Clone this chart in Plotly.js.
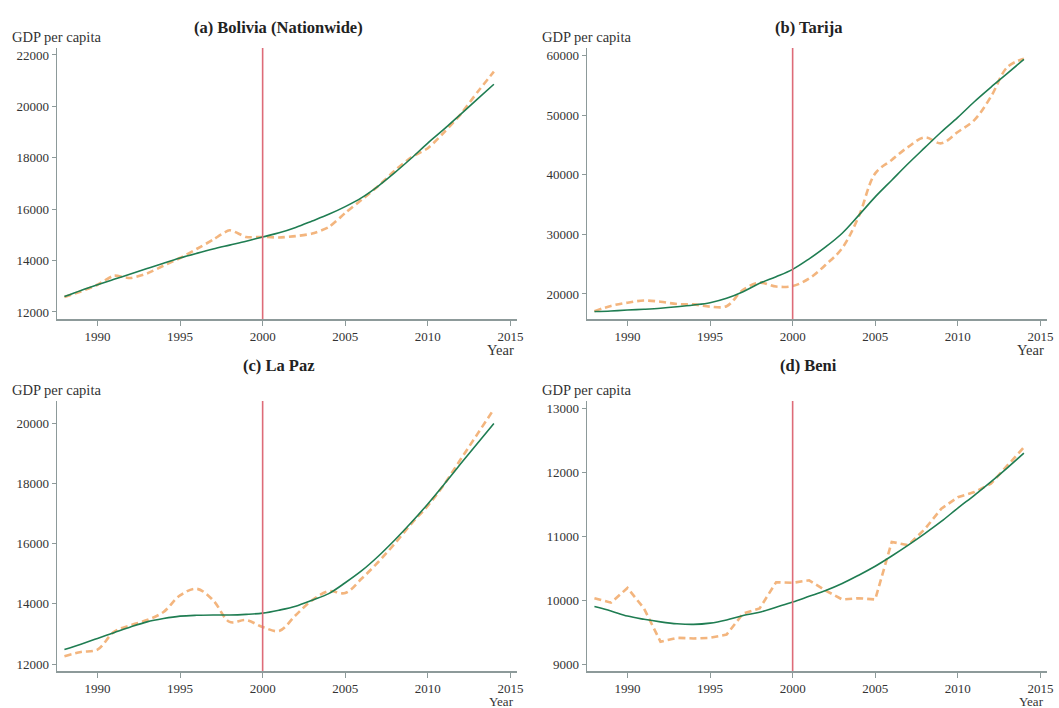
<!DOCTYPE html>
<html>
<head>
<meta charset="utf-8">
<script src="https://cdn.plot.ly/plotly-3.0.1.min.js"></script>
<style>html,body{margin:0;padding:0;background:#fff;}#chart{width:1059px;height:708px;}</style>
</head>
<body>
<div id="chart"></div>
<script>
// ---- Data ----
const years = [1988,1989,1990,1991,1992,1993,1994,1995,1996,1997,1998,1999,2000,2001,2002,2003,2004,2005,2006,2007,2008,2009,2010,2011,2012,2013,2014];

const panelTitles = ["(a) Bolivia (Nationwide)", "(b) Tarija", "(c) La Paz", "(d) Beni"];

const boliviaActual = [12580,12800,13060,13410,13320,13500,13800,14100,14450,14810,15180,14920,14920,14900,14950,15050,15300,15850,16370,16900,17500,18020,18370,19000,19700,20550,21350];
const boliviaTrend  = [12600,12840,13060,13270,13480,13690,13900,14100,14280,14450,14600,14750,14920,15080,15290,15540,15800,16100,16450,16900,17420,17980,18570,19120,19700,20280,20860];

const tarijaActual = [17100,18000,18540,18900,18700,18320,18250,17870,17950,20700,21900,21250,21340,22600,24900,27700,33000,40250,42500,44700,46300,45300,47200,49200,53100,58100,59500];
const tarijaTrend  = [17050,17150,17300,17430,17600,17850,18150,18540,19280,20390,21790,22900,24140,25900,27900,30200,33200,36300,39100,41900,44560,47200,49650,52280,54700,57030,59400];

const lapazActual = [12260,12400,12480,13070,13290,13460,13730,14280,14500,14120,13400,13460,13230,13100,13620,14120,14420,14360,14840,15390,16000,16660,17260,17980,18810,19640,20470];
const lapazTrend  = [12480,12660,12850,13040,13230,13400,13510,13590,13620,13630,13630,13650,13690,13790,13920,14120,14340,14700,15100,15580,16120,16700,17320,17980,18660,19330,19990];

const beniActual = [10030,9960,10190,9870,9350,9410,9400,9410,9460,9790,9870,10280,10270,10310,10150,10010,10030,10010,10910,10860,11110,11430,11610,11690,11820,12100,12390];
const beniTrend  = [9900,9830,9750,9700,9660,9630,9620,9640,9690,9760,9810,9890,9970,10060,10150,10260,10390,10530,10690,10860,11040,11230,11440,11640,11850,12070,12300];

const treatmentYear = 2000;
const xTicks = [1990,1995,2000,2005,2010,2015];
const yTicksA = [12000,14000,16000,18000,20000,22000];
const yTicksB = [20000,30000,40000,50000,60000];
const yTicksC = [12000,14000,16000,18000,20000];
const yTicksD = [9000,10000,11000,12000,13000];

// ---- Styling / layout ----
const W = 1059, H = 708;
const SERIF = "Liberation Serif, DejaVu Serif, serif";
const axisColor = "#8d9a9a";
const greenColor = "#1f7d52";
const orangeColor = "#f3b57e";
const redColor = "#de6b78";

const panels = [
  {actual: boliviaActual, trend: boliviaTrend, ticks: yTicksA, range: [11727, 22270], px: [57, 517], py: [48, 319], spline: 0.6, top: true},
  {actual: tarijaActual,  trend: tarijaTrend,  ticks: yTicksB, range: [15800, 61300], px: [587, 1047], py: [48, 319], spline: 1.0, top: true},
  {actual: lapazActual,   trend: lapazTrend,   ticks: yTicksC, range: [11768, 20740], px: [57, 517], py: [401, 671], spline: 1.0, top: false},
  {actual: beniActual,    trend: beniTrend,    ticks: yTicksD, range: [8891, 13115],  px: [587, 1047], py: [401, 671], spline: 0, top: false}
];

const traces = [];
const layout = {
  width: W, height: H,
  margin: {l: 0, r: 0, t: 0, b: 0},
  paper_bgcolor: "#fff", plot_bgcolor: "#fff",
  showlegend: false,
  font: {family: SERIF, color: "#333"},
  shapes: [], annotations: []
};

panels.forEach((p, i) => {
  const n = i + 1;
  const xa = n === 1 ? "x" : "x" + n;
  const ya = n === 1 ? "y" : "y" + n;
  const xk = n === 1 ? "xaxis" : "xaxis" + n;
  const yk = n === 1 ? "yaxis" : "yaxis" + n;

  traces.push({
    x: years, y: p.actual, xaxis: xa, yaxis: ya, type: "scatter", mode: "lines",
    line: {color: orangeColor, width: 2.6, dash: "7px,4px",
           shape: p.spline > 0 ? "spline" : "linear", smoothing: p.spline || undefined},
    hoverinfo: "skip"
  });
  traces.push({
    x: years, y: p.trend, xaxis: xa, yaxis: ya, type: "scatter", mode: "lines",
    line: {color: greenColor, width: 1.6, shape: "spline", smoothing: 1},
    hoverinfo: "skip"
  });

  layout[xk] = {
    domain: [p.px[0] / W, p.px[1] / W],
    anchor: ya,
    range: [1987.55, 2015.4],
    tickvals: xTicks, ticktext: xTicks.map(String),
    showline: true, linecolor: axisColor, linewidth: 1.5,
    ticks: "outside", ticklen: 5, tickwidth: 1, tickcolor: axisColor,
    showgrid: false, zeroline: false,
    tickfont: {family: SERIF, size: 13, color: "#333"}
  };
  layout[yk] = {
    domain: [1 - p.py[1] / H, 1 - p.py[0] / H],
    anchor: xa,
    range: p.range,
    tickvals: p.ticks, ticktext: p.ticks.map(String),
    showline: true, linecolor: axisColor, linewidth: 1.5,
    ticks: "outside", ticklen: 4, tickwidth: 1, tickcolor: axisColor,
    showgrid: false, zeroline: false,
    tickfont: {family: SERIF, size: 13, color: "#333"}
  };

  layout.shapes.push({
    type: "line", xref: xa, yref: ya + " domain",
    x0: treatmentYear, x1: treatmentYear, y0: 0, y1: 1,
    line: {color: redColor, width: 1.6}
  });

  const left = p.px[0];
  const centerX = left + 221;
  const titleY = p.top ? 28 : 366;
  const ylabY = p.top ? 37 : 390;
  const yearY = p.top ? p.py[1] + 31 : 701;
  const yearSize = p.top ? 14.5 : 13;

  layout.annotations.push({
    xref: "paper", yref: "paper", x: centerX / W, y: 1 - titleY / H,
    xanchor: "center", yanchor: "middle", showarrow: false,
    text: "<b>" + panelTitles[i] + "</b>",
    font: {family: SERIF, size: 16.5, color: "#222"}
  });
  layout.annotations.push({
    xref: "paper", yref: "paper", x: (left - 47) / W, y: 1 - ylabY / H,
    xanchor: "left", yanchor: "middle", showarrow: false,
    text: "GDP per capita",
    font: {family: SERIF, size: 14.5, color: "#333"}
  });
  layout.annotations.push({
    xref: "paper", yref: "paper", x: (p.px[1] - 1) / W, y: 1 - yearY / H,
    xanchor: "right", yanchor: "middle", showarrow: false,
    text: "Year",
    font: {family: SERIF, size: yearSize, color: "#333"}
  });
});

Plotly.newPlot("chart", traces, layout, {staticPlot: true, displayModeBar: false});
</script>
</body>
</html>
